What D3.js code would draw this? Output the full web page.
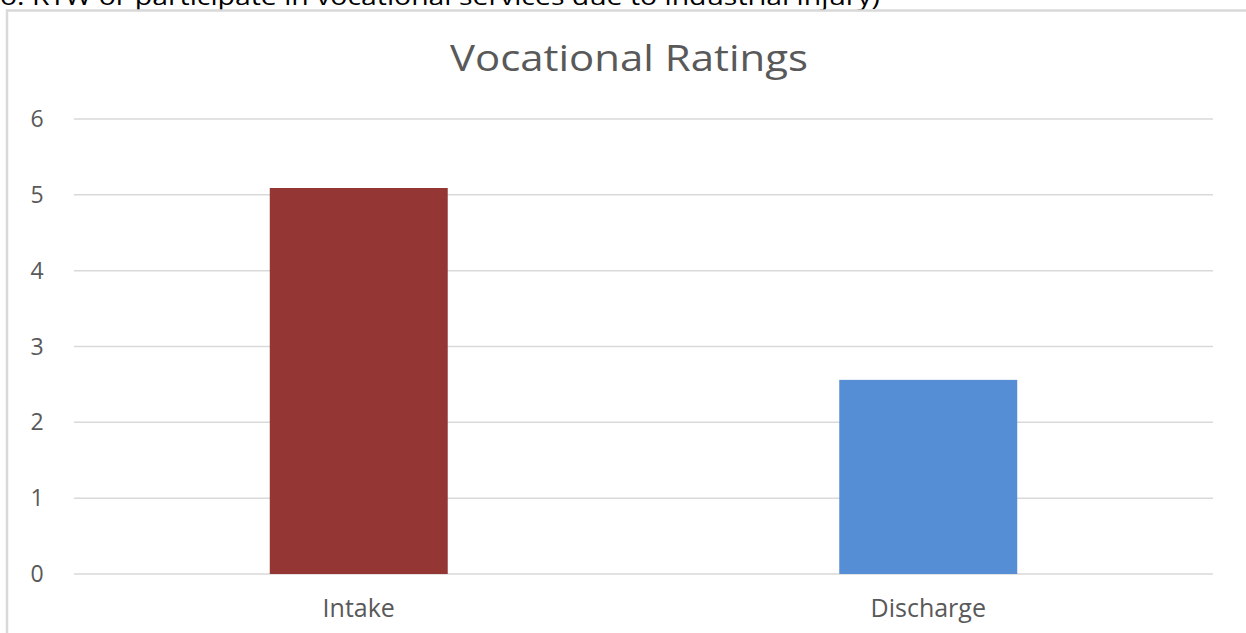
<!DOCTYPE html>
<html>
<head>
<meta charset="utf-8">
<script src="https://cdn.jsdelivr.net/npm/d3@7"></script>
<style>
  body { margin: 0; background: #fff; overflow: hidden; }
  svg { display: block; font-family: "Open Sans", sans-serif; }
</style>
</head>
<body>
<div id="chart"></div>
<script>
let categories = ["Intake", "Discharge"];
let ratings = [5.09, 2.56];
let yTicks = [0, 1, 2, 3, 4, 5, 6];
let chartTitle = "Vocational Ratings";
let pageText = "o: RTW or participate in vocational services due to industrial injury)";

let width = 1246, height = 633;
let margin = {top: 119, right: 33, bottom: 59, left: 74};

let svg = d3.select("#chart")
  .append("svg")
  .attr("width", width)
  .attr("height", height);

// cropped line of document text above the chart
svg.append("text")
  .attr("x", 0)
  .attr("y", 5)
  .attr("font-size", 24)
  .attr("textLength", 880)
  .attr("lengthAdjust", "spacingAndGlyphs")
  .attr("fill", "#000")
  .text(pageText);

// chart frame
svg.append("path")
  .attr("d", "M7,640 V10.5 H1250")
  .attr("fill", "none")
  .attr("stroke", "#d9d9d9")
  .attr("stroke-width", 2.5);

let x = d3.scaleBand()
  .domain(categories)
  .range([margin.left, width - margin.right])
  .padding(0);

let y = d3.scaleLinear()
  .domain([0, 6])
  .range([height - margin.bottom, margin.top]);

// gridlines
svg.append("g")
  .selectAll("line")
  .data(yTicks)
  .enter().append("line")
  .attr("x1", margin.left)
  .attr("x2", width - margin.right)
  .attr("y1", d => y(d))
  .attr("y2", d => y(d))
  .attr("stroke", "#d9d9d9")
  .attr("stroke-width", 1.5);

// y labels
svg.append("g")
  .selectAll("text")
  .data(yTicks)
  .enter().append("text")
  .attr("x", 37)
  .attr("y", d => y(d))
  .attr("dy", "0.35em")
  .attr("text-anchor", "middle")
  .attr("font-size", 23)
  .attr("fill", "#595959")
  .text(d => d);

let barColors = ["#943634", "#558ed5"];
let barFrac = 0.3125;

svg.append("g")
  .selectAll("rect")
  .data(ratings)
  .enter().append("rect")
  .attr("x", (d, i) => x(categories[i]) + x.bandwidth() * (1 - barFrac) / 2)
  .attr("width", x.bandwidth() * barFrac)
  .attr("y", d => y(d))
  .attr("height", d => y(0) - y(d))
  .attr("fill", (d, i) => barColors[i]);

// category labels
svg.append("g")
  .selectAll("text")
  .data(categories)
  .enter().append("text")
  .attr("x", d => x(d) + x.bandwidth() / 2)
  .attr("y", 617)
  .attr("text-anchor", "middle")
  .attr("font-size", 25)
  .attr("fill", "#595959")
  .text(d => d);

svg.append("text")
  .attr("x", 629)
  .attr("y", 71)
  .attr("text-anchor", "middle")
  .attr("font-size", 37)
  .attr("textLength", 358)
  .attr("lengthAdjust", "spacingAndGlyphs")
  .attr("fill", "#595959")
  .text(chartTitle);
</script>
</body>
</html>
